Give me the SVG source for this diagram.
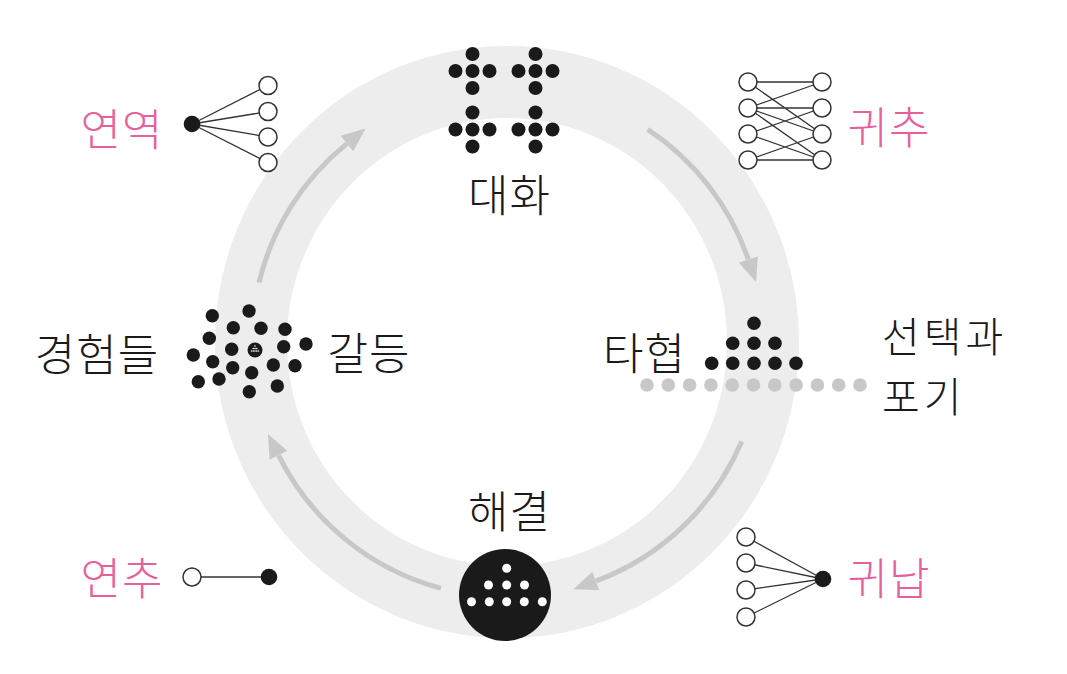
<svg xmlns="http://www.w3.org/2000/svg" width="1067" height="674" viewBox="0 0 1067 674">
<style>
.lbl{font-family:"Noto Sans CJK KR","Noto Sans",sans-serif;font-size:44px;font-weight:300;fill:#1a1a1a;letter-spacing:1px}
.side{font-size:41px;letter-spacing:4px}
.pink{fill:#e8609b}
.d{fill:#1a1a1a}
.g{fill:#c8c8c8}
.w{fill:#ffffff}
.ring{fill:none;stroke:#ededed;stroke-width:72}
.arr{fill:none;stroke:#c8c8c8;stroke-width:5}
.ln{stroke:#333;stroke-width:1.3;fill:none}
.oc{fill:#fff;stroke:#333;stroke-width:1.5}
</style>
<defs>
<marker id="ah" markerUnits="userSpaceOnUse" viewBox="0 -11 26 22" refX="0" refY="0" markerWidth="26" markerHeight="22" orient="auto">
<path d="M0,-10 L24,0 L0,10 z" fill="#c8c8c8"/>
</marker>
<g id="cross"><circle cx="0" cy="-17" r="7"/><circle cx="-17" cy="0" r="7"/><circle cx="0" cy="0" r="7"/><circle cx="17" cy="0" r="7"/><circle cx="0" cy="17" r="7"/></g>
</defs>
<rect width="1067" height="674" fill="#fff"/>
<ellipse class="ring" cx="507" cy="342" rx="256" ry="260"/>
<g id="connectors">
<path class="arr" marker-end="url(#ah)" d="M259.0,282.5 A255,255 0 0 1 346.9,143.6"/>
<path class="arr" marker-end="url(#ah)" d="M647.7,129.4 A255,255 0 0 1 748.3,259.4"/>
<path class="arr" marker-end="url(#ah)" d="M741.7,441.6 A255,255 0 0 1 595.9,581.0"/>
<path class="arr" marker-end="url(#ah)" d="M441.0,588.3 A255,255 0 0 1 278.6,455.4"/>
</g>
<g id="dialogue">
<g class="d">
<use href="#cross" x="472.5" y="71"/>
<use href="#cross" x="535.5" y="71"/>
<use href="#cross" x="472.5" y="129.5"/>
<use href="#cross" x="535.5" y="129.5"/>
</g>
<text class="lbl" x="509.5" y="211.5" text-anchor="middle">대화</text>
</g>
<g id="conflict">
<g class="d">
<circle cx="212.3" cy="315.7" r="6.7"/>
<circle cx="249" cy="311" r="6.7"/>
<circle cx="233.3" cy="327.7" r="6.7"/>
<circle cx="261" cy="328.3" r="6.7"/>
<circle cx="285" cy="329.3" r="6.7"/>
<circle cx="209.3" cy="338.3" r="6.7"/>
<circle cx="306" cy="344" r="6.7"/>
<circle cx="231.7" cy="349.3" r="6.7"/>
<circle cx="283.7" cy="346.7" r="6.7"/>
<circle cx="193.3" cy="355" r="6.7"/>
<circle cx="212.7" cy="361.7" r="6.7"/>
<circle cx="232.7" cy="367.7" r="6.7"/>
<circle cx="251.7" cy="372.7" r="6.7"/>
<circle cx="273.3" cy="365" r="6.7"/>
<circle cx="295" cy="365.7" r="6.7"/>
<circle cx="198.3" cy="381.7" r="6.7"/>
<circle cx="219" cy="379" r="6.7"/>
<circle cx="249.3" cy="391.7" r="6.7"/>
<circle cx="277.3" cy="386" r="6.7"/>
<circle cx="255" cy="350" r="7.5"/>
</g>
<g class="w">
<circle cx="255" cy="346" r="0.8"/>
<circle cx="253.3" cy="348.5" r="0.8"/><circle cx="255" cy="348.5" r="0.8"/><circle cx="256.7" cy="348.5" r="0.8"/>
<circle cx="251.6" cy="351" r="0.8"/><circle cx="253.3" cy="351" r="0.8"/><circle cx="255" cy="351" r="0.8"/><circle cx="256.7" cy="351" r="0.8"/><circle cx="258.4" cy="351" r="0.8"/>
</g>
<text class="lbl" x="97" y="370.5" text-anchor="middle">경험들</text>
<text class="lbl" x="369" y="369.5" text-anchor="middle">갈등</text>
</g>
<g id="compromise">
<g class="d">
<circle cx="754" cy="323.3" r="6.8"/>
<circle cx="732.7" cy="343.3" r="6.8"/><circle cx="754" cy="343.3" r="6.8"/><circle cx="775" cy="343.3" r="6.8"/>
<circle cx="711.7" cy="363.3" r="6.8"/><circle cx="732.7" cy="363.3" r="6.8"/><circle cx="754" cy="363.3" r="6.8"/><circle cx="775" cy="363.3" r="6.8"/><circle cx="796" cy="363.3" r="6.8"/>
</g>
<g class="g">
<circle cx="647" cy="385" r="6.8"/><circle cx="668.3" cy="385" r="6.8"/><circle cx="689.6" cy="385" r="6.8"/><circle cx="710.9" cy="385" r="6.8"/><circle cx="732.2" cy="385" r="6.8"/><circle cx="753.5" cy="385" r="6.8"/><circle cx="774.8" cy="385" r="6.8"/><circle cx="796.1" cy="385" r="6.8"/><circle cx="817.4" cy="385" r="6.8"/><circle cx="838.7" cy="385" r="6.8"/><circle cx="860" cy="385" r="6.8"/>
</g>
<text class="lbl" x="644.5" y="369.5" text-anchor="middle">타협</text>
</g>
<g id="choice">
<text class="lbl side" x="882" y="352">선택과</text>
<text class="lbl side" x="882" y="412">포기</text>
</g>
<g id="resolution">
<circle class="d" cx="505" cy="595" r="46"/>
<g class="w">
<circle cx="506.7" cy="568.3" r="4.5"/>
<circle cx="488.5" cy="585" r="4.5"/><circle cx="506.7" cy="585" r="4.5"/><circle cx="524.5" cy="585" r="4.5"/>
<circle cx="471.5" cy="601.7" r="4.5"/><circle cx="489.3" cy="601.7" r="4.5"/><circle cx="506.7" cy="601.7" r="4.5"/><circle cx="524.3" cy="601.7" r="4.5"/><circle cx="542.3" cy="601.7" r="4.5"/>
</g>
<text class="lbl" x="509.5" y="527.5" text-anchor="middle">해결</text>
</g>
<g id="deduction">
<path class="ln" d="M192,124 L268,85.5 M192,124 L268,111.5 M192,124 L268,137 M192,124 L268,162.5"/>
<circle class="d" cx="192" cy="124" r="8.3"/>
<circle class="oc" cx="268" cy="85.5" r="9"/>
<circle class="oc" cx="268" cy="111.5" r="9"/>
<circle class="oc" cx="268" cy="137" r="9"/>
<circle class="oc" cx="268" cy="162.5" r="9"/>
<text class="lbl pink" x="122" y="145.5" text-anchor="middle">연역</text>
</g>
<g id="abduction">
<path class="ln" d="M748,82 L822,82 M748,82 L822,134 M748,108 L822,82 M748,108 L822,108 M748,108 L822,134 M748,108 L822,160 M748,134 L822,108 M748,134 L822,160 M748,160 L822,134 M748,160 L822,160"/>
<circle class="oc" cx="748" cy="82" r="9"/>
<circle class="oc" cx="748" cy="108" r="9"/>
<circle class="oc" cx="748" cy="134" r="9"/>
<circle class="oc" cx="748" cy="160" r="9"/>
<circle class="oc" cx="822" cy="82" r="9"/>
<circle class="oc" cx="822" cy="108" r="9"/>
<circle class="oc" cx="822" cy="134" r="9"/>
<circle class="oc" cx="822" cy="160" r="9"/>
<text class="lbl pink" x="889" y="143.5" text-anchor="middle">귀추</text>
</g>
<g id="induction">
<path class="ln" d="M746,537 L823,579 M746,563 L823,579 M746,590 L823,579 M746,617 L823,579"/>
<circle class="oc" cx="746" cy="537" r="9"/>
<circle class="oc" cx="746" cy="563" r="9"/>
<circle class="oc" cx="746" cy="590" r="9"/>
<circle class="oc" cx="746" cy="617" r="9"/>
<circle class="d" cx="823" cy="579" r="8.3"/>
<text class="lbl pink" x="889" y="594.5" text-anchor="middle">귀납</text>
</g>
<g id="analogy">
<path class="ln" d="M192,577 L269,577"/>
<circle class="oc" cx="192" cy="577" r="9"/>
<circle class="d" cx="269" cy="577" r="8.3"/>
<text class="lbl pink" x="122" y="594.5" text-anchor="middle">연추</text>
</g>
</svg>
